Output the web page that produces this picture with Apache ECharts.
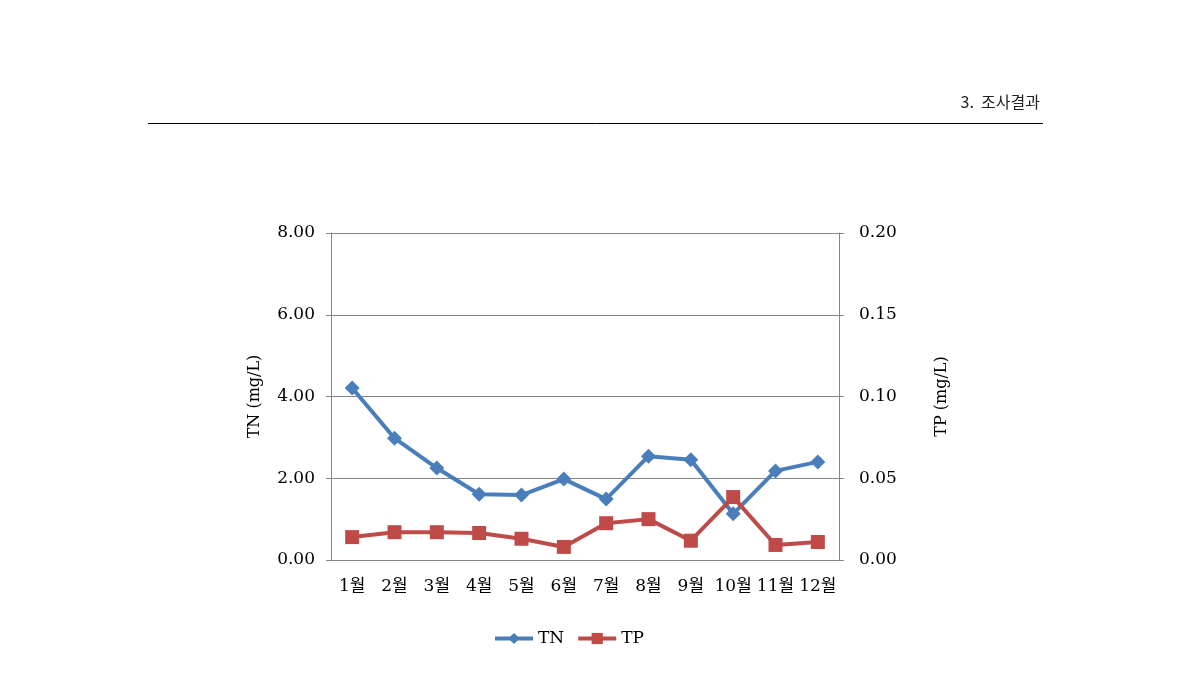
<!DOCTYPE html>
<html><head><meta charset="utf-8">
<script src="https://cdn.jsdelivr.net/npm/echarts@6/dist/echarts.min.js"></script>
<style>html,body{margin:0;padding:0;background:#fff}#c{width:1190px;height:684px}</style>
</head><body><div id="c"></div>
<script>
const categories = ['1월','2월','3월','4월','5월','6월','7월','8월','9월','10월','11월','12월'];
const tnValues = [4.21, 2.98, 2.25, 1.61, 1.59, 1.98, 1.49, 2.54, 2.45, 1.13, 2.18, 2.40];
const tpValues = [0.014, 0.017, 0.017, 0.0165, 0.013, 0.008, 0.0225, 0.025, 0.0118, 0.0385, 0.0092, 0.011];
const leftTicks = { min: 0, max: 8, interval: 2 };
const rightTicks = { min: 0, max: 0.2, interval: 0.05 };
const headerText = '3.  조사결과';

const serif = "'DejaVu Serif','Noto Sans CJK KR',serif";
const chart = echarts.init(document.getElementById('c'));
chart.setOption({
  backgroundColor: '#fff',
  animation: false,
  graphic: [
    { type: 'text', right: 150, top: 94, style: { text: headerText, font: "16px 'Noto Sans CJK KR','Noto Sans',sans-serif", fill: '#222' } },
    { type: 'line', shape: { x1: 148, y1: 123.5, x2: 1043, y2: 123.5 }, style: { stroke: '#000', lineWidth: 1 } }
  ],
  grid: { left: 331, right: 351, top: 233, bottom: 124 },
  legend: {
    bottom: 32, left: 488, itemWidth: 38, itemHeight: 14, itemGap: 12,
    lineStyle: { width: 4 },
    textStyle: { fontFamily: serif, fontSize: 17, color: '#000' },
    data: ['TN', 'TP']
  },
  xAxis: {
    type: 'category', data: categories, boundaryGap: true,
    axisLine: { lineStyle: { color: '#868686', width: 1 } },
    axisTick: { show: false },
    axisLabel: { color: '#000', fontFamily: serif, fontSize: 17, margin: 18, interval: 0 }
  },
  yAxis: [
    {
      type: 'value', min: leftTicks.min, max: leftTicks.max, interval: leftTicks.interval,
      name: 'TN (mg/L)', nameLocation: 'middle', nameGap: 68, nameRotate: 90,
      nameTextStyle: { color: '#000', fontFamily: serif, fontSize: 16 },
      axisLine: { show: true, lineStyle: { color: '#868686' } },
      axisTick: { show: true, length: 5, lineStyle: { color: '#868686' } },
      axisLabel: { color: '#000', fontFamily: serif, fontSize: 17, margin: 16, formatter: v => v.toFixed(2) },
      splitLine: { show: true, lineStyle: { color: '#868686', width: 1 } }
    },
    {
      type: 'value', min: rightTicks.min, max: rightTicks.max, interval: rightTicks.interval,
      name: 'TP (mg/L)', nameLocation: 'middle', nameGap: 95, nameRotate: 90,
      nameTextStyle: { color: '#000', fontFamily: serif, fontSize: 16 },
      axisLine: { show: true, lineStyle: { color: '#868686' } },
      axisTick: { show: true, length: 5, lineStyle: { color: '#868686' } },
      axisLabel: { color: '#000', fontFamily: serif, fontSize: 17, margin: 20, formatter: v => v.toFixed(2) },
      splitLine: { show: false }
    }
  ],
  series: [
    {
      name: 'TN', type: 'line', yAxisIndex: 0, data: tnValues,
      symbol: 'diamond', symbolSize: 15,
      itemStyle: { color: '#4A7EBB' }, lineStyle: { color: '#4A7EBB', width: 4 }
    },
    {
      name: 'TP', type: 'line', yAxisIndex: 1, data: tpValues,
      symbol: 'rect', symbolSize: 14,
      itemStyle: { color: '#BE4B48' }, lineStyle: { color: '#BE4B48', width: 4 }
    }
  ]
});
</script></body></html>
